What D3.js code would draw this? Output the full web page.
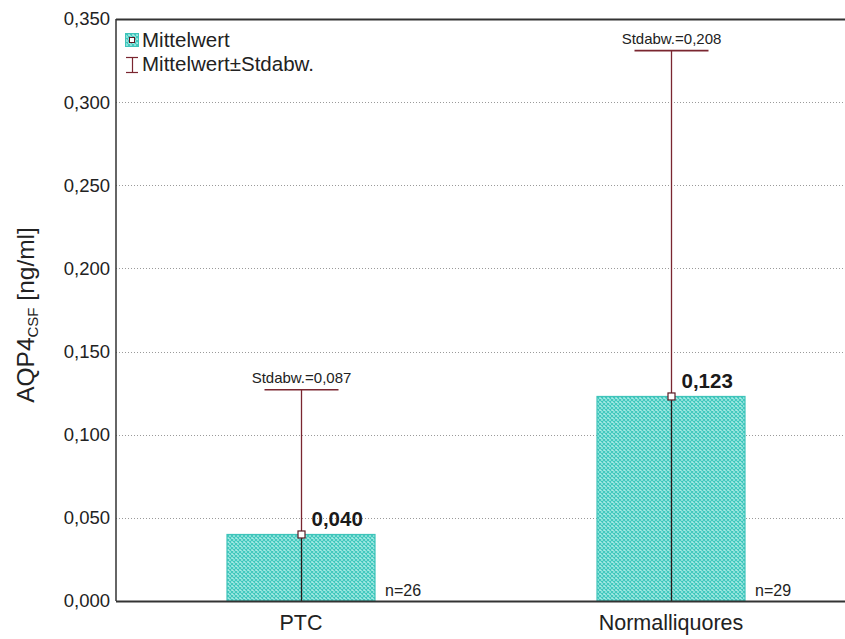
<!DOCTYPE html>
<html>
<head>
<meta charset="utf-8">
<script src="https://cdn.jsdelivr.net/npm/d3@7"></script>
<style>
  html, body { margin: 0; padding: 0; background: #fff; }
  svg { display: block; font-family: "Liberation Sans", Arial, sans-serif; }
</style>
</head>
<body>
<svg id="chart" width="845" height="639"></svg>
<script>
// Group means, standard deviations and sample sizes
const categories = ["PTC", "Normalliquores"];
const means = [0.040, 0.123];
const stdDevs = [0.087, 0.208];
const counts = [26, 29];
const yTicks = [0, 0.05, 0.10, 0.15, 0.20, 0.25, 0.30, 0.35];

const fmt = v => d3.format(".3f")(v).replace(".", ",");

const svg = d3.select("#chart");
const margin = { left: 116, top: 19, bottom: 601, right: 856 };

const x = d3.scaleBand().domain(categories).range([margin.left, margin.right]).paddingInner(0.6).paddingOuter(0.3);
const y = d3.scaleLinear().domain([0, 0.35]).range([margin.bottom, margin.top]);

// Crosshatch fill for the bars
const defs = svg.append("defs");
const pat = defs.append("pattern").attr("id", "hatch").attr("patternUnits", "userSpaceOnUse")
  .attr("width", 4).attr("height", 4);
pat.append("rect").attr("width", 4).attr("height", 4).attr("fill", "#a8ebe5");
pat.append("path").attr("d", "M0,0 L4,4 M4,0 L0,4").attr("stroke", "#3ec7bc").attr("stroke-width", 1.1);

// Dotted gridlines
svg.append("g").selectAll("line").data(yTicks.filter(t => t > 0 && t < 0.35)).join("line")
  .attr("x1", margin.left).attr("x2", 845)
  .attr("y1", d => Math.round(y(d)) + 0.5).attr("y2", d => Math.round(y(d)) + 0.5)
  .attr("stroke", "#9a9a9a").attr("stroke-width", 1).attr("stroke-dasharray", "1,2");

// Y axis tick labels
const yAxis = d3.axisLeft(y).tickValues(yTicks).tickFormat(fmt).tickSize(0).tickPadding(6);
const yg = svg.append("g").attr("transform", `translate(${margin.left},0)`).call(yAxis);
yg.select(".domain").remove();
yg.selectAll("text").attr("font-size", 18.5).attr("fill", "#222").attr("font-family", "Liberation Sans, Arial, sans-serif");

// Bars
const bw = x.bandwidth();
svg.append("g").selectAll("rect").data(categories).join("rect")
  .attr("x", d => x(d)).attr("width", bw)
  .attr("y", (d, i) => y(means[i])).attr("height", (d, i) => y(0) - y(means[i]))
  .attr("fill", "url(#hatch)").attr("stroke", "#3fc4ba").attr("stroke-width", 1.2);

// Error bars (mean + SD, lower part clipped at zero)
const whisk = "#7a2630";
const capHalf = 37;
const eb = svg.append("g");
categories.forEach((c, i) => {
  const cx = Math.round(x(c) + bw / 2) + 0.5;
  const top = y(means[i] + stdDevs[i]);
  const low = y(Math.max(0, means[i] - stdDevs[i]));
  eb.append("line").attr("x1", cx).attr("x2", cx).attr("y1", top).attr("y2", y(means[i]))
    .attr("stroke", whisk).attr("stroke-width", 1.3);
  eb.append("line").attr("x1", cx).attr("x2", cx).attr("y1", y(means[i])).attr("y2", low)
    .attr("stroke", "#2a1a1a").attr("stroke-width", 1.3);
  eb.append("line").attr("x1", cx - capHalf).attr("x2", cx + capHalf).attr("y1", top).attr("y2", top)
    .attr("stroke", whisk).attr("stroke-width", 1.6);
  eb.append("rect").attr("x", cx - 3.5).attr("y", y(means[i]) - 3.5).attr("width", 7).attr("height", 7)
    .attr("fill", "#fff").attr("stroke", "#5a1a24").attr("stroke-width", 1.2);
  // SD label above the cap
  eb.append("text").attr("x", cx).attr("y", top - 7).attr("text-anchor", "middle")
    .attr("font-size", 15).attr("fill", "#222").text("Stdabw.=" + fmt(stdDevs[i]));
  // Mean value label
  eb.append("text").attr("x", cx + 10).attr("y", y(means[i]) - 8)
    .attr("font-size", 20.5).attr("font-weight", "bold").attr("fill", "#1a1a1a").text(fmt(means[i]));
  // Sample size
  eb.append("text").attr("x", x(c) + bw + 10).attr("y", y(0) - 5)
    .attr("font-size", 16).attr("fill", "#222").text("n=" + counts[i]);
});

// Category labels
svg.append("g").selectAll("text").data(categories).join("text")
  .attr("x", d => x(d) + bw / 2).attr("y", 630).attr("text-anchor", "middle")
  .attr("font-size", 21.5).attr("fill", "#222").text(d => d);

// Frame: left, top and bottom lines
svg.append("line").attr("x1", margin.left).attr("x2", margin.left).attr("y1", margin.top).attr("y2", margin.bottom)
  .attr("stroke", "#333").attr("stroke-width", 1.5);
svg.append("line").attr("x1", margin.left).attr("x2", 845).attr("y1", margin.top + 0.5).attr("y2", margin.top + 0.5)
  .attr("stroke", "#333").attr("stroke-width", 2);
svg.append("line").attr("x1", margin.left).attr("x2", 845).attr("y1", margin.bottom + 0.5).attr("y2", margin.bottom + 0.5)
  .attr("stroke", "#333").attr("stroke-width", 1.8);

// Y axis title with subscript
const title = svg.append("text").attr("transform", `translate(34,${(margin.top + margin.bottom) / 2 + 5}) rotate(-90)`)
  .attr("text-anchor", "middle").attr("font-size", 24.5).attr("fill", "#222");
title.append("tspan").text("AQP4");
title.append("tspan").attr("font-size", 15).attr("dy", 4).text("CSF");
title.append("tspan").attr("dy", -4).text(" [ng/ml]");

// Legend
const lg = svg.append("g").attr("transform", "translate(125,33)");
lg.append("rect").attr("x", 0.5).attr("y", 0.5).attr("width", 13).attr("height", 13)
  .attr("fill", "url(#hatch)").attr("stroke", "#3fc4ba");
lg.append("rect").attr("x", 4.5).attr("y", 4.5).attr("width", 5).attr("height", 5)
  .attr("fill", "#fff").attr("stroke", "#5a1a24");
lg.append("text").attr("x", 17).attr("y", 14).attr("font-size", 20.5).attr("fill", "#222").text("Mittelwert");
lg.append("line").attr("x1", 1).attr("x2", 13).attr("y1", 24.5).attr("y2", 24.5).attr("stroke", whisk).attr("stroke-width", 1.2);
lg.append("line").attr("x1", 7.5).attr("x2", 7.5).attr("y1", 24.5).attr("y2", 39.5).attr("stroke", whisk).attr("stroke-width", 1.2);
lg.append("line").attr("x1", 1).attr("x2", 13).attr("y1", 39.5).attr("y2", 39.5).attr("stroke", whisk).attr("stroke-width", 1.2);
lg.append("text").attr("x", 17).attr("y", 38).attr("font-size", 20.5).attr("fill", "#222").text("Mittelwert±Stdabw.");
</script>
</body>
</html>
